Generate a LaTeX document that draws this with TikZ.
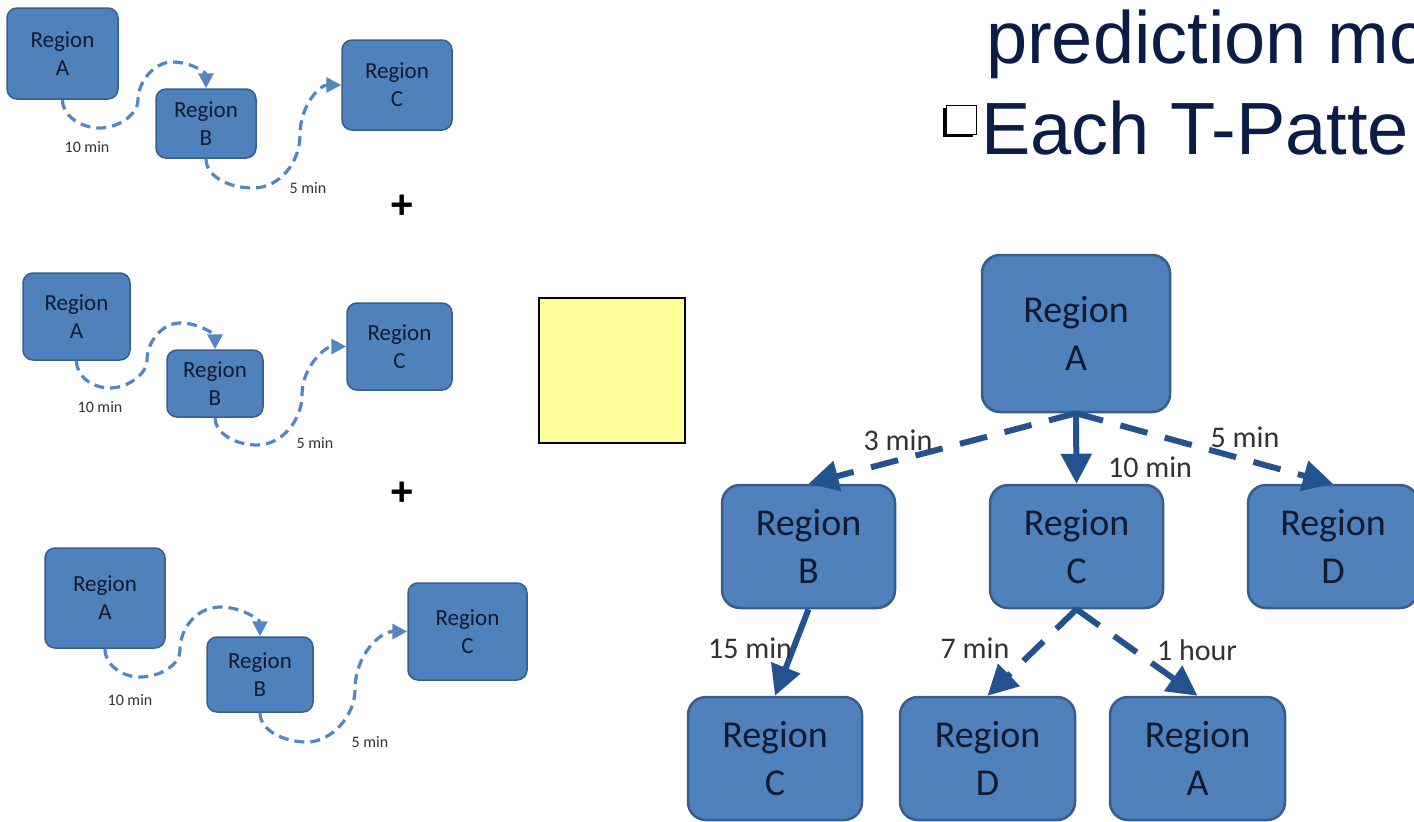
\documentclass[tikz,border=0pt]{standalone}
\usepackage{fontspec}
\setmainfont{Carlito}
\newfontfamily\headfont{Liberation Sans}
\usetikzlibrary{arrows.meta}

\definecolor{boxfill}{RGB}{79,129,189}
\definecolor{boxline}{RGB}{56,93,138}
\definecolor{flowlight}{RGB}{84,134,194}
\definecolor{flowdark}{RGB}{36,82,143}
\definecolor{heading}{RGB}{11,28,72}
\definecolor{boxtext}{RGB}{18,26,48}
\definecolor{notegray}{RGB}{50,50,50}
\definecolor{memo}{RGB}{255,255,153}

\tikzset{
  smallbox/.style={draw=boxline, line width=1.5pt, fill=boxfill, rounded corners=10pt,
    align=center, text=boxtext, font=\fontsize{23}{28}\selectfont, inner sep=0pt},
  bigbox/.style={draw=boxline, line width=2.5pt, fill=boxfill, rounded corners=18pt,
    align=center, text=boxtext, font=\fontsize{38}{48}\selectfont, inner sep=0pt},
  hop/.style={draw=flowlight, line width=3.2pt, dash pattern=on 10pt off 6pt,
    -{Triangle[length=15pt,width=15pt]}},
  hopnote/.style={text=notegray, font=\fontsize{16}{16}\selectfont, inner sep=0pt},
  link/.style={draw=flowdark, line width=6pt, -{Triangle[length=30pt,width=30pt]}},
  dashlink/.style={link, dash pattern=on 28pt off 18pt},
  linknote/.style={text=notegray, font=\fontsize{30}{30}\selectfont, inner sep=0pt},
  plus/.style={font=\headfont\bfseries\fontsize{40}{40}\selectfont, inner sep=0pt},
  headline/.style={text=heading, font=\headfont\fontsize{74}{74}\selectfont, inner sep=0pt, anchor=base west}
}

\begin{document}
\begin{tikzpicture}[x=1pt,y=-1pt]
\useasboundingbox (0,0) rectangle (1414,822);
\begin{scope}
\clip (0,0) rectangle (1414,822);

% ---------- first sequence ----------
\node[smallbox, minimum width=111pt, minimum height=91pt] (a1) at (62.5,53.5) {Region\\A};
\node[smallbox, minimum width=100pt, minimum height=69pt] (b1) at (206,123.5) {Region\\B};
\node[smallbox, minimum width=110pt, minimum height=90pt] (c1) at (397,85) {Region\\C};
\draw[hop] (a1.south) .. controls (62.5,116) and (81,128) .. (100,128)
  .. controls (119,128) and (138,114) .. (138,100)
  .. controls (138,81) and (155,62) .. (172,62)
  .. controls (192,62) and (206,73) .. (b1.north);
\draw[hop] (b1.south) .. controls (206,176) and (228,188) .. (253,188)
  .. controls (280,188) and (300,162) .. (300,135)
  .. controls (300,105) and (320,85) .. (c1.west);
\node[hopnote] (n1a) at (87,147) {10 min};
\node[hopnote] (n1b) at (308,188) {5 min};
\node[plus] (p1) at (402,207) {+};

% ---------- second sequence ----------
\node[smallbox, minimum width=107pt, minimum height=87pt] (a2) at (76.5,316.5) {Region\\A};
\node[smallbox, minimum width=96pt, minimum height=67pt] (b2) at (215,383.5) {Region\\B};
\node[smallbox, minimum width=105pt, minimum height=87pt] (c2) at (399.5,346.5) {Region\\C};
\draw[hop] (a2.south) .. controls (76.5,377) and (93,388) .. (110,388)
  .. controls (128,388) and (147,374) .. (147,360)
  .. controls (147,341) and (163,323) .. (180,323)
  .. controls (200,323) and (215,335) .. (b2.north);
\draw[hop] (b2.south) .. controls (215,433) and (235,445) .. (257,445)
  .. controls (282,445) and (302,420) .. (302,395)
  .. controls (302,367) and (325,346.5) .. (c2.west);
\node[hopnote] (n2a) at (100,407) {10 min};
\node[hopnote] (n2b) at (315,443) {5 min};
\node[plus] (p2) at (402,494) {+};

% ---------- third sequence ----------
\node[smallbox, minimum width=120pt, minimum height=100pt] (a3) at (105,598) {Region\\A};
\node[smallbox, minimum width=106pt, minimum height=75pt] (b3) at (260,674.5) {Region\\B};
\node[smallbox, minimum width=119pt, minimum height=97pt] (c3) at (467.5,631.5) {Region\\C};
\draw[hop] (a3.south) .. controls (105,665) and (122,677) .. (140,677)
  .. controls (160,677) and (180,665) .. (180,650)
  .. controls (180,627) and (198,607) .. (220,607)
  .. controls (242,607) and (260,620) .. (b3.north);
\draw[hop] (b3.south) .. controls (260,730) and (283,742) .. (307,742)
  .. controls (332,742) and (355,715) .. (355,690)
  .. controls (355,655) and (380,631.5) .. (c3.west);
\node[hopnote] (n3a) at (130,700) {10 min};
\node[hopnote] (n3b) at (370,742) {5 min};

% ---------- note square ----------
\node[draw=black, line width=1.5pt, fill=memo, minimum width=146pt, minimum height=145pt, inner sep=0pt] (memo) at (612,370.5) {};

% ---------- heading ----------
\node[headline] (h1) at (986,63) {prediction mo};
\node[headline] (h2) at (981,154) {Each T-Patte};
\fill[black] (943,108) rectangle (973,137);
\draw[black, line width=1pt, fill=white] (946.5,105) rectangle (976.5,134);

% ---------- tree ----------
\node[bigbox, minimum width=188pt, minimum height=157pt] (tA) at (1076,333.5) {Region\\A};
\node[bigbox, minimum width=173pt, minimum height=123pt] (tB) at (808.5,546.5) {Region\\B};
\node[bigbox, minimum width=173pt, minimum height=123pt] (tC) at (1076.5,546.5) {Region\\C};
\node[bigbox, minimum width=170pt, minimum height=123pt] (tD) at (1333,546.5) {Region\\D};
\node[bigbox, minimum width=174pt, minimum height=123pt] (uC) at (775,758.5) {Region\\C};
\node[bigbox, minimum width=175pt, minimum height=123pt] (uD) at (987.5,758.5) {Region\\D};
\node[bigbox, minimum width=175pt, minimum height=123pt] (uA) at (1197.5,758.5) {Region\\A};

\draw[dashlink] (tA.south) -- (tB.north);
\draw[link] (tA.south) -- (tC.north);
\draw[dashlink] (tA.south) -- (tD.north);
\draw[link] (tB.south) -- (uC.north);
\draw[dashlink] (tC.south) -- (uD.north);
\draw[dashlink] (tC.south) -- (uA.north);

\node[linknote] (l1) at (898,440) {3 min};
\node[linknote] (l2) at (1150,467) {10 min};
\node[linknote] (l3) at (1245,437) {5 min};
\node[linknote] (l4) at (750,648) {15 min};
\node[linknote] (l5) at (975,648) {7 min};
\node[linknote] (l6) at (1197,650) {1 hour};
\end{scope}
\end{tikzpicture}
\end{document}
